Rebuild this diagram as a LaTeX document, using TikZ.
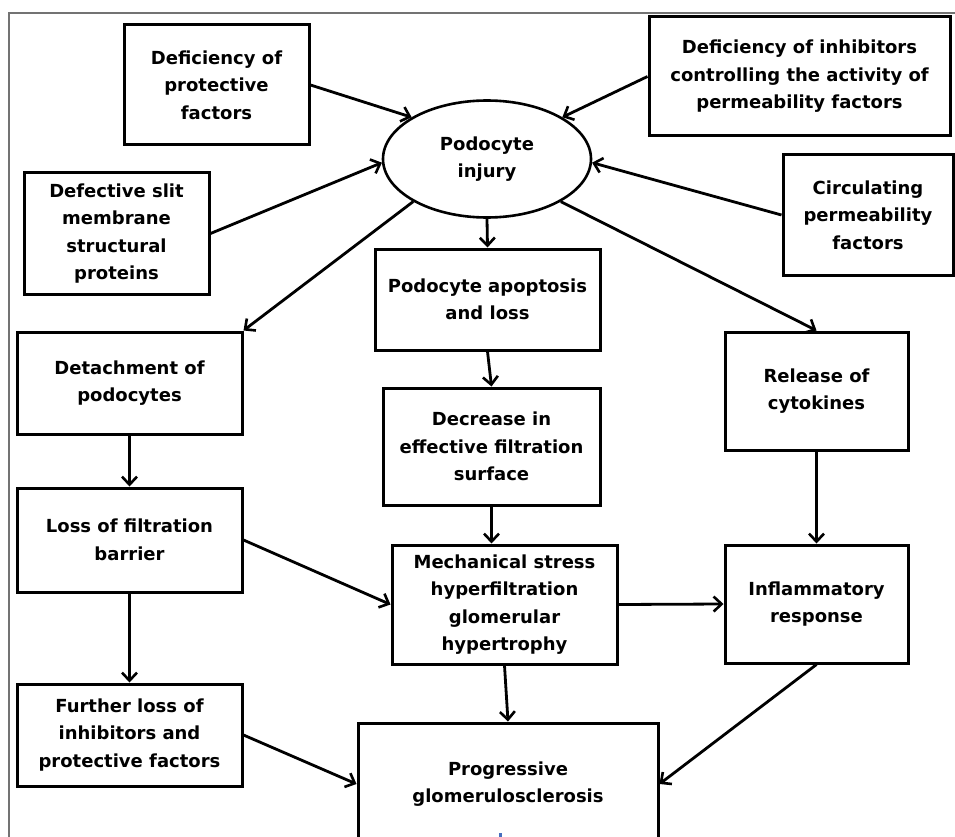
\documentclass[tikz,border=0pt]{standalone}
\usepackage{fontspec}
\setmainfont{DejaVu Sans}
\usetikzlibrary{arrows.meta,shapes.geometric}
\definecolor{markblue}{RGB}{70,110,190}
\tikzset{
  box/.style={draw=black, line width=3pt, rectangle, align=center, inner sep=0pt,
              font=\bfseries\fontsize{18}{27.5}\selectfont},
  oval/.style={draw=black, line width=2.6pt, ellipse, align=center, inner sep=0pt,
              font=\bfseries\fontsize{18}{27.5}\selectfont},
  conn/.style={line width=2.8pt, -{Straight Barb[length=8pt,width=15pt,line width=2.6pt]}},
  frameline/.style={draw=black!55, line width=1.6pt}
}
\begin{document}
\begin{tikzpicture}[x=1pt,y=-1pt]
\useasboundingbox (0,0) rectangle (955,837);
\clip (0,0) rectangle (955,837);
\draw[frameline] (9,837) -- (9,13) -- (955,13);

\node[box, minimum width=185pt, minimum height=120pt] (prot) at (216.5,85)
  {Deficiency of\\protective\\factors};
\node[box, minimum width=301pt, minimum height=119pt] (inhib) at (799.5,76.5)
  {Deficiency of inhibitors\\controlling the activity of\\permeability factors};
\node[box, minimum width=185pt, minimum height=121pt] (defect) at (116.5,233.5)
  {Defective slit\\membrane\\structural\\proteins};
\node[box, minimum width=170pt, minimum height=120pt] (circ) at (868,215)
  {Circulating\\permeability\\factors};
\node[oval, minimum width=208pt, minimum height=117pt] (ell) at (487,159)
  {Podocyte\\injury};
\node[box, minimum width=225pt, minimum height=101pt] (apop) at (487.5,299.5)
  {Podocyte apoptosis\\and loss};
\node[box, minimum width=225pt, minimum height=102pt] (detach) at (129.5,383)
  {Detachment of\\podocytes};
\node[box, minimum width=183pt, minimum height=118pt] (cyto) at (816.5,391)
  {Release of\\cytokines};
\node[box, minimum width=217pt, minimum height=117pt] (decr) at (491.5,446.5)
  {Decrease in\\effective filtration\\surface};
\node[box, minimum width=225pt, minimum height=104pt] (lossf) at (129.5,540)
  {Loss of filtration\\barrier};
\node[box, minimum width=225pt, minimum height=119pt] (mech) at (504.5,604.5)
  {Mechanical stress\\hyperfiltration\\glomerular\\hypertrophy};
\node[box, minimum width=183pt, minimum height=118pt] (infl) at (816.5,604)
  {Inflammatory\\response};
\node[box, minimum width=225pt, minimum height=102pt] (further) at (129.5,735)
  {Further loss of\\inhibitors and\\protective factors};
\node[box, minimum width=300pt, minimum height=122pt] (prog) at (508,784)
  {Progressive\\glomerulosclerosis};

\draw[conn] (prot.east) -- (ell.151);
\draw[conn] (inhib.west) -- (ell.29);
\draw[conn] (defect.east) -- (ell.182);
\draw[conn] (circ.west) -- (ell.-2);
\draw[conn] (ell.south) -- (apop.north);
\draw[conn] (ell.210) -- (detach.north east);
\draw[conn] (ell.-30) -- (cyto.north);
\draw[conn] (apop.south) -- (decr.north);
\draw[conn] (decr.south) -- (decr.south |- mech.north);
\draw[conn] (detach.south) -- (lossf.north);
\draw[conn] (cyto.south) -- (infl.north);
\draw[conn] (lossf.east) -- (mech.west);
\draw[conn] (mech.east) -- (infl.west);
\draw[conn] (lossf.south) -- (further.north);
\draw[conn] (mech.south) -- (prog.north);
\draw[conn] (further.east) -- (prog.west);
\draw[conn] (infl.south) -- (prog.east);

\fill[markblue] (498.5,832.5) rectangle (502,837);
\end{tikzpicture}
\end{document}
